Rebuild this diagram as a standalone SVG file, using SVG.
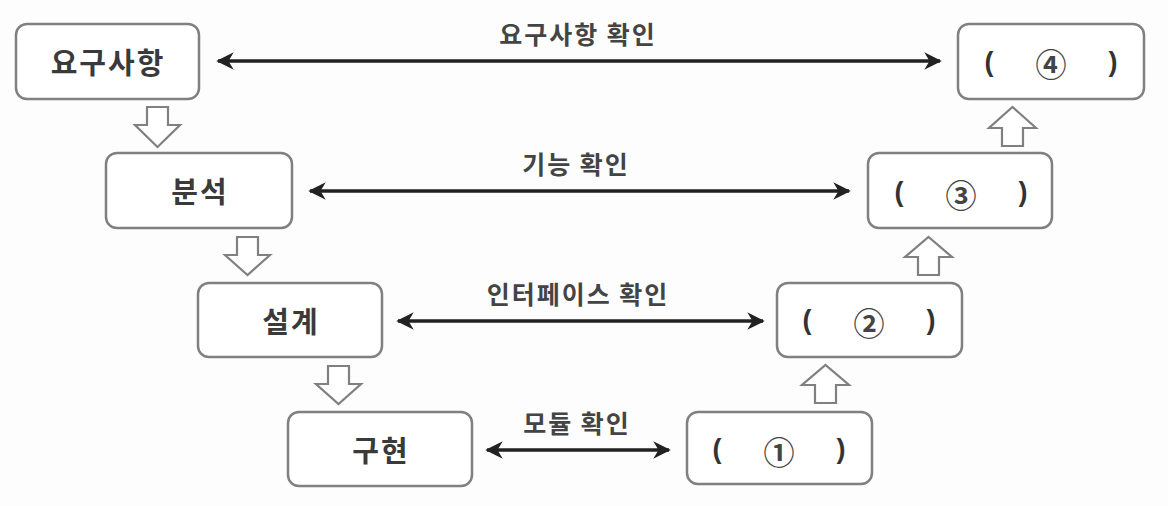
<svg xmlns="http://www.w3.org/2000/svg" width="1168" height="506" viewBox="0 0 1168 506">
<defs>
<style>
.box{fill:#fff;stroke:#808080;stroke-width:2.5}
.t{font-family:"Noto Sans CJK KR",sans-serif;font-size:29px;font-weight:bold;fill:#3a3a3a;text-anchor:middle;dominant-baseline:central;letter-spacing:2px}
.p{font-family:"Liberation Sans",sans-serif;font-size:27px;font-weight:bold;fill:#333;text-anchor:middle;dominant-baseline:central}
.c{font-family:"Noto Sans CJK KR",sans-serif;font-size:31px;font-weight:bold;fill:#444;text-anchor:middle;dominant-baseline:central}
.lbl{font-family:"Noto Sans CJK KR",sans-serif;font-size:25px;font-weight:bold;fill:#444;text-anchor:middle;letter-spacing:2px}
.conn{stroke:#222;stroke-width:3.5;fill:none}
.hollow{fill:#fff;stroke:#808080;stroke-width:2.2;stroke-linejoin:miter}
</style>
<marker id="ah" viewBox="0 0 10 10" refX="9" refY="5" markerWidth="5" markerHeight="5" orient="auto-start-reverse" markerUnits="strokeWidth">
<path d="M0,0 L10,5 L0,10 L3,5 Z" fill="#222"/>
</marker>
</defs>
<rect width="1168" height="506" fill="#fdfdfd"/>
<g id="n-req"><rect class="box" x="16" y="24" width="183" height="75" rx="11"/><text class="t" x="108" y="61">요구사항</text></g>
<g id="n-ana"><rect class="box" x="106" y="153" width="186" height="75" rx="11"/><text class="t" x="200" y="190">분석</text></g>
<g id="n-des"><rect class="box" x="198" y="283" width="184" height="74" rx="11"/><text class="t" x="291" y="320">설계</text></g>
<g id="n-imp"><rect class="box" x="288" y="412" width="184" height="74" rx="11"/><text class="t" x="381" y="449">구현</text></g>
<g id="n-1"><rect class="box" x="687" y="412" width="185" height="72" rx="11"/><text class="p" x="717" y="449">(</text><text class="c" x="779" y="450">①</text><text class="p" x="841" y="449">)</text></g>
<g id="n-2"><rect class="box" x="777" y="283" width="185" height="74" rx="11"/><text class="p" x="807" y="320">(</text><text class="c" x="869" y="321">②</text><text class="p" x="931" y="320">)</text></g>
<g id="n-3"><rect class="box" x="868" y="153" width="184" height="75" rx="11"/><text class="p" x="899" y="192">(</text><text class="c" x="961" y="193">③</text><text class="p" x="1023" y="192">)</text></g>
<g id="n-4"><rect class="box" x="958" y="24" width="186" height="75" rx="11"/><text class="p" x="989" y="62">(</text><text class="c" x="1051" y="62">④</text><text class="p" x="1113" y="62">)</text></g>
<g id="connectors">
<line class="conn" x1="218" y1="61" x2="940" y2="61" marker-start="url(#ah)" marker-end="url(#ah)"/>
<line class="conn" x1="310" y1="191" x2="849" y2="191" marker-start="url(#ah)" marker-end="url(#ah)"/>
<line class="conn" x1="398" y1="321" x2="763" y2="321" marker-start="url(#ah)" marker-end="url(#ah)"/>
<line class="conn" x1="487" y1="450" x2="669" y2="450" marker-start="url(#ah)" marker-end="url(#ah)"/>
<text class="lbl" x="578" y="44">요구사항 확인</text>
<text class="lbl" x="576" y="174">기능 확인</text>
<text class="lbl" x="578" y="304">인터페이스 확인</text>
<text class="lbl" x="577" y="433">모듈 확인</text>
<path class="hollow" d="M147,107 H168 V125 H180 L157.5,147 L135,125 H147 Z"/>
<path class="hollow" d="M237,237 H258 V255 H270 L247.5,275 L225,255 H237 Z"/>
<path class="hollow" d="M328,366 H349 V384 H361 L338.5,404 L316,384 H328 Z"/>
<path class="hollow" d="M815,403 H836 V385 H849 L825.5,365 L802,385 H815 Z"/>
<path class="hollow" d="M918,275 H939 V257 H952 L928.5,237 L905,257 H918 Z"/>
<path class="hollow" d="M1002,146 H1023 V128 H1036 L1012.5,107 L989,128 H1002 Z"/>
</g>
</svg>
